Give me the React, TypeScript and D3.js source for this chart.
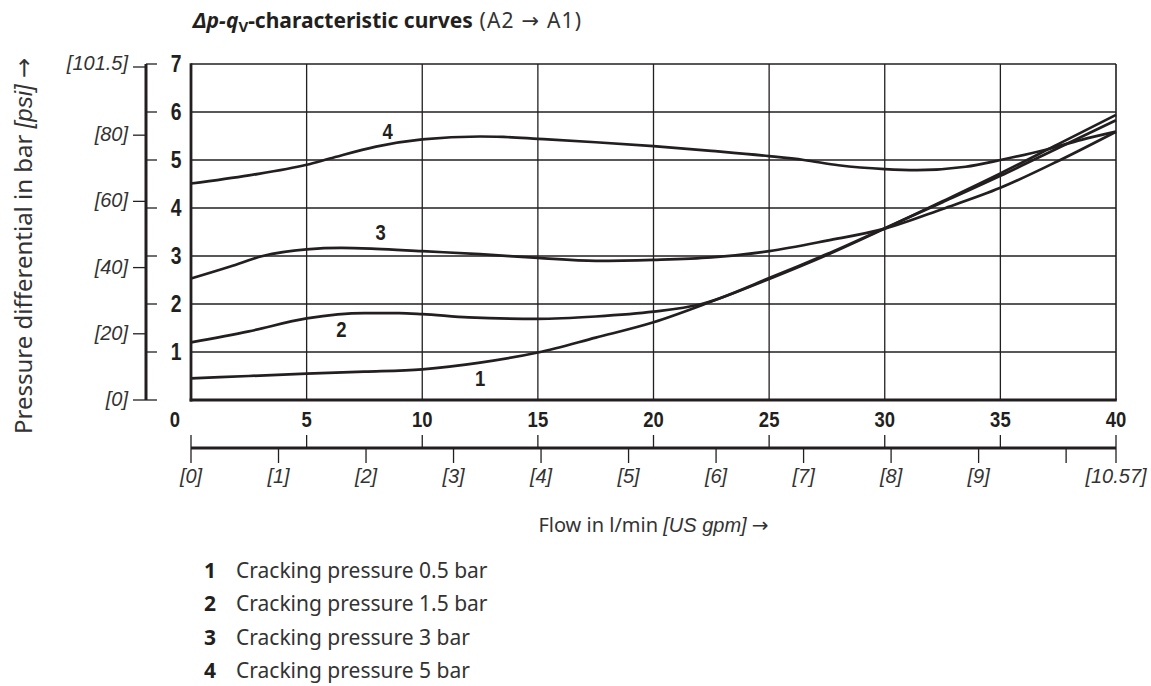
import React, { useRef, useEffect } from "react";
import * as d3 from "d3";

// flow in l/min and pressure differential in bar
const curve1Flow = [0, 2.5, 5, 7.5, 10, 12.5, 15, 17.5, 20, 22.5, 25, 27.5, 30, 32.5, 35, 37.5, 40];
const curve1Dp = [0.45, 0.5, 0.55, 0.59, 0.64, 0.78, 0.99, 1.3, 1.62, 2.05, 2.52, 3.02, 3.57, 4.14, 4.72, 5.33, 5.94];

const curve2Flow = [0, 2.5, 5, 7.5, 9, 10, 12, 15, 17.5, 20, 22, 25, 27.5, 30, 32.5, 35, 37.5, 40];
const curve2Dp = [1.2, 1.43, 1.7, 1.81, 1.81, 1.79, 1.72, 1.69, 1.74, 1.84, 1.99, 2.54, 3.04, 3.58, 4.12, 4.67, 5.25, 5.83];

const curve3Flow = [0, 1.7, 3.1, 5, 6.5, 8, 10, 12.5, 15, 17.5, 20, 22.5, 25, 27.5, 30, 32.5, 35, 37.5, 40];
const curve3Dp = [2.53, 2.78, 3.0, 3.14, 3.17, 3.15, 3.1, 3.04, 2.96, 2.9, 2.92, 2.97, 3.1, 3.32, 3.57, 3.98, 4.42, 4.98, 5.59];

const curve4Flow = [0, 2.5, 5, 6, 8, 10, 12.5, 13.5, 15, 17.5, 20, 22.5, 25, 26.5, 28, 30, 31.4, 33.5, 35, 37, 38.5, 40];
const curve4Dp = [4.51, 4.68, 4.9, 5.03, 5.28, 5.43, 5.49, 5.48, 5.44, 5.37, 5.29, 5.19, 5.08, 5.0, 4.89, 4.81, 4.79, 4.86, 5.0, 5.22, 5.42, 5.59];

const curveIds = ["1", "2", "3", "4"];
// where the curve number sits (flow, bar)
const labelFlow = [12.5, 6.5, 8.2, 8.5];
const labelDp = [0.45, 1.47, 3.5, 5.6];

const legendText = [
  "Cracking pressure 0.5 bar",
  "Cracking pressure 1.5 bar",
  "Cracking pressure 3 bar",
  "Cracking pressure 5 bar",
];

const barTicks = [0, 1, 2, 3, 4, 5, 6, 7];
const psiTicks = [0, 20, 40, 60, 80, 101.5];
const flowTicks = [0, 5, 10, 15, 20, 25, 30, 35, 40];
const gpmTicks = [0, 1, 2, 3, 4, 5, 6, 7, 8, 9, 10];
const gpmMax = 10.57;
const psiMax = 101.5;

const W = 1151;
const H = 686;
const INK = "#231f20";
const SANS = "'Noto Sans', 'Open Sans', sans-serif";
const NUM = "'Liberation Sans', Arial, sans-serif";
const ITAL = "'Liberation Sans', Arial, sans-serif";
const ARROW = "'DejaVu Sans', sans-serif";
const SQUEEZE = 0.84;

const App: React.FC = () => {
  const svgRef = useRef<SVGSVGElement | null>(null);

  useEffect(() => {
    if (!svgRef.current) return;
    const svg = d3.select(svgRef.current);
    svg.selectAll("*").remove();

    const x = d3.scaleLinear().domain([0, 40]).range([191, 1116]);
    const y = d3.scaleLinear().domain([0, 7]).range([400, 64]);
    const yPsi = d3.scaleLinear().domain([0, psiMax]).range([400, 64]);
    const xGpm = d3.scaleLinear().domain([0, gpmMax]).range([191, 1116]);

    // grid
    const grid = svg.append("g").attr("stroke", INK).attr("stroke-width", 1.3);
    grid.selectAll("line.h")
      .data(barTicks.slice(1, -1))
      .enter().append("line")
      .attr("x1", x(0)).attr("x2", x(40))
      .attr("y1", d => y(d)).attr("y2", d => y(d));
    grid.selectAll("line.v")
      .data(flowTicks.slice(1, -1))
      .enter().append("line")
      .attr("y1", y(0)).attr("y2", y(7))
      .attr("x1", d => x(d)).attr("x2", d => x(d));

    // frame
    const frame = svg.append("g").attr("stroke", INK).attr("fill", "none");
    frame.append("line").attr("x1", x(0)).attr("x2", x(40)).attr("y1", y(7)).attr("y2", y(7)).attr("stroke-width", 1.5);
    frame.append("line").attr("x1", x(40)).attr("x2", x(40)).attr("y1", y(7)).attr("y2", y(0)).attr("stroke-width", 1.6);
    frame.append("line").attr("x1", x(0)).attr("x2", x(0)).attr("y1", y(7) - 0.7).attr("y2", y(0) + 1.4).attr("stroke-width", 2.8);
    frame.append("line").attr("x1", x(0) - 1.4).attr("x2", x(40) + 0.8).attr("y1", y(0)).attr("y2", y(0)).attr("stroke-width", 2.8);

    // curves
    const series = [
      curve1Flow.map((f, i) => [f, curve1Dp[i]]),
      curve2Flow.map((f, i) => [f, curve2Dp[i]]),
      curve3Flow.map((f, i) => [f, curve3Dp[i]]),
      curve4Flow.map((f, i) => [f, curve4Dp[i]]),
    ] as [number, number][][];

    const line = d3.line<[number, number]>()
      .x(d => x(d[0]))
      .y(d => y(d[1]))
      .curve(d3.curveMonotoneX);

    svg.append("g")
      .attr("fill", "none")
      .attr("stroke", INK)
      .attr("stroke-width", 2.7)
      .attr("stroke-linejoin", "round")
      .selectAll("path")
      .data(series)
      .enter().append("path")
      .attr("d", d => line(d));

    svg.append("g")
      .selectAll("text")
      .data(curveIds)
      .enter().append("text")
      .attr("transform", (d, i) => `translate(${x(labelFlow[i])},${y(labelDp[i])}) scale(${SQUEEZE},1)`)
      .attr("dy", "0.36em")
      .attr("text-anchor", "middle")
      .attr("font-family", NUM)
      .attr("font-weight", "bold")
      .attr("font-size", 22)
      .attr("fill", INK)
      .text(d => d);

    // left axis: bar on the right side of the spine, psi on the left side
    const axisX = 146;
    const left = svg.append("g").attr("stroke", INK);
    left.append("line").attr("x1", axisX).attr("x2", axisX).attr("y1", y(7)).attr("y2", y(0)).attr("stroke-width", 3);
    left.selectAll("line.bar")
      .data(barTicks)
      .enter().append("line")
      .attr("x1", axisX).attr("x2", axisX + 11)
      .attr("y1", d => y(d)).attr("y2", d => y(d))
      .attr("stroke-width", 1.3);
    left.selectAll("line.psi")
      .data(psiTicks)
      .enter().append("line")
      .attr("x1", axisX - 13).attr("x2", axisX)
      .attr("y1", d => yPsi(d) + (d === psiMax ? 3 : 0)).attr("y2", d => yPsi(d) + (d === psiMax ? 3 : 0))
      .attr("stroke-width", 1.3);

    // the bar "0" is shared with the flow axis label below
    svg.append("g")
      .selectAll("text")
      .data(barTicks.filter(d => d > 0))
      .enter().append("text")
      .attr("transform", d => `translate(176,${y(d)}) scale(${SQUEEZE},1)`)
      .attr("dy", "0.33em")
      .attr("text-anchor", "middle")
      .attr("font-family", NUM)
      .attr("font-weight", "bold")
      .attr("font-size", 23)
      .attr("fill", INK)
      .text(d => d);

    svg.append("g")
      .selectAll("text")
      .data(psiTicks)
      .enter().append("text")
      .attr("x", 128)
      .attr("y", d => yPsi(d))
      .attr("dy", "0.3em")
      .attr("text-anchor", "end")
      .attr("font-family", ITAL)
      .attr("font-style", "italic")
      .attr("font-size", 20)
      .attr("fill", "#333")
      .text(d => `[${d}]`);

    // bottom axis: l/min ticks above, US gpm ticks below
    const axisY = 448;
    const bottom = svg.append("g").attr("stroke", INK);
    bottom.append("line").attr("x1", x(0)).attr("x2", x(40)).attr("y1", axisY).attr("y2", axisY).attr("stroke-width", 3);
    bottom.selectAll("line.flow")
      .data(flowTicks)
      .enter().append("line")
      .attr("x1", d => x(d)).attr("x2", d => x(d))
      .attr("y1", axisY - 13).attr("y2", axisY)
      .attr("stroke-width", 1.3);
    bottom.selectAll("line.gpm")
      .data([...gpmTicks, gpmMax])
      .enter().append("line")
      .attr("x1", d => xGpm(d)).attr("x2", d => xGpm(d))
      .attr("y1", axisY).attr("y2", axisY + 15)
      .attr("stroke-width", 1.3);

    svg.append("g")
      .selectAll("text")
      .data(flowTicks)
      .enter().append("text")
      .attr("transform", d => `translate(${d === 0 ? x(d) - 16 : x(d)},427) scale(${SQUEEZE},1)`)
      .attr("text-anchor", "middle")
      .attr("font-family", NUM)
      .attr("font-weight", "bold")
      .attr("font-size", 22)
      .attr("fill", INK)
      .text(d => d);

    svg.append("g")
      .selectAll("text")
      .data([...gpmTicks.filter(d => d !== 10), gpmMax])
      .enter().append("text")
      .attr("x", d => xGpm(d))
      .attr("y", 477)
      .attr("dy", "0.3em")
      .attr("text-anchor", "middle")
      .attr("font-family", ITAL)
      .attr("font-style", "italic")
      .attr("font-size", 20)
      .attr("fill", "#333")
      .text(d => `[${d}]`);

    // axis titles
    const yTitle = svg.append("text")
      .attr("transform", `translate(32,${(y(0) + 92) / 2}) rotate(-90)`)
      .attr("text-anchor", "middle")
      .attr("font-family", SANS)
      .attr("font-size", 24)
      .attr("fill", "#333");
    yTitle.append("tspan").text("Pressure differential in bar ");
    yTitle.append("tspan").attr("font-family", ITAL).attr("font-style", "italic").text("[psi]");
    yTitle.append("tspan").text(" ");
    yTitle.append("tspan").attr("font-family", ARROW).text("→");

    const xTitle = svg.append("text")
      .attr("x", x(20))
      .attr("y", 532)
      .attr("text-anchor", "middle")
      .attr("font-family", SANS)
      .attr("font-size", 20)
      .attr("fill", "#333");
    xTitle.append("tspan").text("Flow in l/min ");
    xTitle.append("tspan").attr("font-family", ITAL).attr("font-style", "italic").text("[US gpm]");
    xTitle.append("tspan").text(" ");
    xTitle.append("tspan").attr("font-family", ARROW).text("→");

    // chart title
    const title = svg.append("text")
      .attr("x", 193)
      .attr("y", 28)
      .attr("font-family", SANS)
      .attr("font-size", 21)
      .attr("fill", INK);
    title.append("tspan").attr("font-weight", "bold").attr("font-style", "italic").text("Δp-q");
    title.append("tspan").attr("font-weight", "bold").attr("font-size", 15).attr("dy", 4).text("V");
    title.append("tspan").attr("font-weight", "bold").attr("dy", -4).text("-characteristic curves");
    const sub = title.append("tspan").attr("fill", "#333").attr("letter-spacing", 1.2);
    sub.text(" (A2 ");
    title.append("tspan").attr("fill", "#333").attr("font-family", ARROW).attr("letter-spacing", 1.2).text("→");
    title.append("tspan").attr("fill", "#333").attr("letter-spacing", 1.2).text(" A1)");

    // legend
    const legend = svg.append("g")
      .selectAll("g")
      .data(legendText)
      .enter().append("g")
      .attr("transform", (d, i) => `translate(0,${578 + i * 33.3})`);
    legend.append("text")
      .attr("x", 210)
      .attr("text-anchor", "middle")
      .attr("font-family", SANS)
      .attr("font-weight", "bold")
      .attr("font-size", 21)
      .attr("fill", INK)
      .text((d, i) => curveIds[i]);
    legend.append("text")
      .attr("x", 236)
      .attr("font-family", SANS)
      .attr("font-size", 21)
      .attr("fill", "#333")
      .text(d => d);
  }, []);

  return (
    <svg
      ref={svgRef}
      width={W}
      height={H}
      style={{ position: "absolute", left: 0, top: 0, background: "#fff" }}
    />
  );
};

export default App;
